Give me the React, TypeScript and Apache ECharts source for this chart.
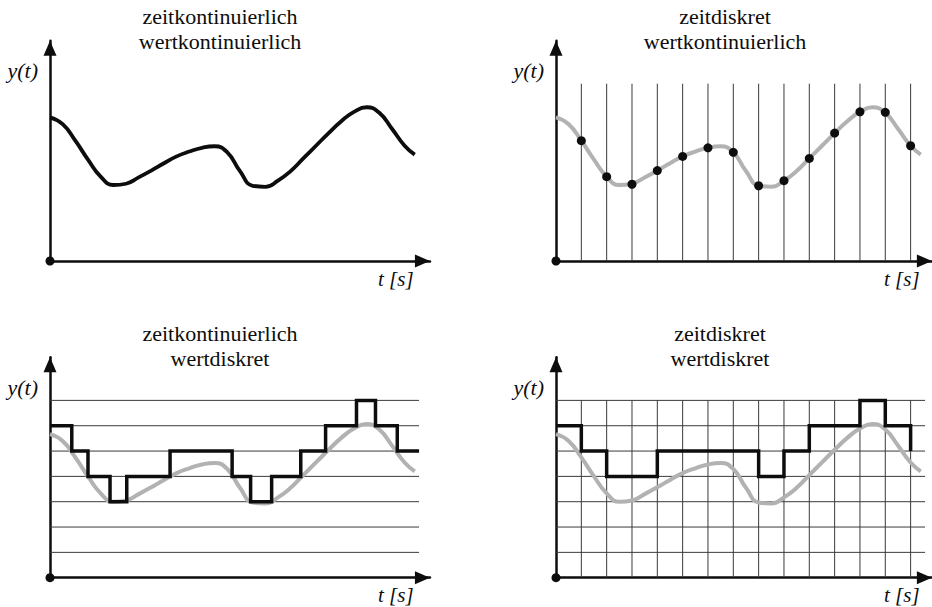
import React, { useEffect, useRef } from "react";
import * as echarts from "echarts";

// ---- data ----
const CURVE_T = [0, 0.5, 1, 1.5, 2, 2.5, 3, 3.5, 4, 4.5, 5, 5.5, 6, 6.5, 7, 7.5, 8, 8.5, 9, 9.5, 10, 10.5, 11, 11.5, 12, 12.5, 13, 13.5, 14, 14.4];
const CURVE_Y = [5.67, 5.4, 4.75, 4.0, 3.33, 3.0, 3.05, 3.3, 3.57, 3.86, 4.13, 4.32, 4.47, 4.53, 4.29, 3.55, 2.97, 2.93, 3.17, 3.55, 4.05, 4.55, 5.05, 5.52, 5.89, 6.07, 5.85, 5.22, 4.55, 4.2];

const SAMPLE_T = [1, 2, 3, 4, 5, 6, 7, 8, 9, 10, 11, 12, 13, 14];
const SAMPLE_Y = [4.75, 3.33, 3.03, 3.57, 4.13, 4.47, 4.29, 2.97, 3.17, 4.05, 5.05, 5.89, 5.87, 4.55];

// time-continuous, value-discrete: level holds from t[i] to t[i+1]
const STEP_CONT_T = [0, 0.86, 1.5, 2.37, 3.03, 4.74, 7.19, 7.92, 8.75, 9.9, 10.88, 12.1, 12.85, 13.71, 14.57];
const STEP_CONT_L = [6, 5, 4, 3, 4, 5, 4, 3, 4, 5, 6, 7, 6, 5, 5];

// time-discrete, value-discrete (sample & hold)
const STEP_DISC_T = [0, 1, 2, 4, 8, 9, 10, 12, 13, 14];
const STEP_DISC_L = [6, 5, 4, 5, 4, 5, 6, 7, 6, 5];

const TIME_GRID = [1, 2, 3, 4, 5, 6, 7, 8, 9, 10, 11, 12, 13, 14];
const VALUE_LEVELS = [1, 2, 3, 4, 5, 6, 7];
const LEVEL_TOP = 7;
const LINE_END_T = 14.57;

const TITLES = [
  ["zeitkontinuierlich", "wertkontinuierlich"],
  ["zeitdiskret", "wertkontinuierlich"],
  ["zeitkontinuierlich", "wertdiskret"],
  ["zeitdiskret", "wertdiskret"],
];
const Y_LABEL = "y(t)";
const X_LABEL = "t [s]";

// ---- layout ----
const U = 25.33;
const Y_MAX = 8.7;
const PANELS = [
  { left: 50, origin: 261, xMax: 15, cx: 220 },
  { left: 556, origin: 261, xMax: 14.84, cx: 725 },
  { left: 50, origin: 577.7, xMax: 15, cx: 220 },
  { left: 556, origin: 577.7, xMax: 14.84, cx: 720 },
];

const BLACK = "#0d0d0d";
const GREY = "#b2b2b2";
const GRIDC = "#3a3a3a";
const SERIF = "Liberation Serif";

function segRender(params: any, api: any) {
  const p1 = api.coord([api.value(0), api.value(1)]);
  const p2 = api.coord([api.value(2), api.value(3)]);
  return {
    type: "line",
    shape: { x1: p1[0], y1: p1[1], x2: p2[0], y2: p2[1] },
    style: { stroke: GRIDC, lineWidth: 1 },
  };
}

export default function App() {
  const ref = useRef<HTMLDivElement>(null);
  useEffect(() => {
    document.body.style.margin = "0";
    if (!ref.current) return;
    const chart = echarts.init(ref.current, undefined, { renderer: "svg" });

    const grid = PANELS.map((p) => ({
      left: p.left,
      top: p.origin - Y_MAX * U,
      width: p.xMax * U,
      height: Y_MAX * U,
      containLabel: false,
    }));
    const axisLine = () => ({
      show: true,
      onZero: false,
      symbol: ["none", "triangle"],
      symbolSize: [13, 15],
      symbolOffset: [0, -7.5],
      lineStyle: { color: BLACK, width: 2.5 },
    });
    const xAxis = PANELS.map((p, i) => ({
      gridIndex: i,
      type: "value",
      min: 0,
      max: p.xMax,
      axisLine: axisLine(),
      axisTick: { show: false },
      axisLabel: { show: false },
      splitLine: { show: false },
    }));
    const yAxis = PANELS.map((p, i) => ({
      gridIndex: i,
      type: "value",
      min: 0,
      max: Y_MAX,
      name: Y_LABEL,
      nameLocation: "end",
      nameGap: -(Y_MAX * U - (i < 2 ? 261 - 70 : 577.7 - 387)),
      nameTextStyle: {
        fontFamily: SERIF,
        fontSize: 22,
        fontStyle: "italic",
        color: BLACK,
        align: "right",
        verticalAlign: "middle",
        padding: [0, 12, 0, 0],
      },
      axisLine: axisLine(),
      axisTick: { show: false },
      axisLabel: { show: false },
      splitLine: { show: false },
    }));

    const curve = CURVE_T.map((t, i) => [t, CURVE_Y[i]]);
    const vSegs = TIME_GRID.map((t) => [t, 0, t, LEVEL_TOP]);
    const hSegs = VALUE_LEVELS.map((l) => [0, l, LINE_END_T, l]);

    const series: any[] = [];
    const addSegs = (idx: number, data: number[][]) =>
      series.push({
        type: "custom",
        xAxisIndex: idx,
        yAxisIndex: idx,
        renderItem: segRender,
        data,
        silent: true,
        z: 1,
        clip: false,
      });
    addSegs(1, vSegs);
    addSegs(2, hSegs);
    addSegs(3, hSegs);
    addSegs(3, vSegs);

    PANELS.forEach((_, i) => {
      series.push({
        type: "line",
        xAxisIndex: i,
        yAxisIndex: i,
        data: curve,
        smooth: 0.5,
        showSymbol: false,
        silent: true,
        z: 2,
        lineStyle: { color: i === 0 ? BLACK : GREY, width: i === 0 ? 3.8 : 4 },
      });
    });

    series.push({
      type: "line",
      xAxisIndex: 2,
      yAxisIndex: 2,
      step: "end",
      data: STEP_CONT_T.map((t, i) => [t, STEP_CONT_L[i]]),
      showSymbol: false,
      silent: true,
      z: 3,
      lineStyle: { color: BLACK, width: 3.5, join: "miter" },
    });
    series.push({
      type: "line",
      xAxisIndex: 3,
      yAxisIndex: 3,
      step: "end",
      data: STEP_DISC_T.map((t, i) => [t, STEP_DISC_L[i]]),
      showSymbol: false,
      silent: true,
      z: 3,
      lineStyle: { color: BLACK, width: 3.5, join: "miter" },
    });
    series.push({
      type: "scatter",
      xAxisIndex: 1,
      yAxisIndex: 1,
      data: SAMPLE_T.map((t, i) => [t, SAMPLE_Y[i]]),
      symbolSize: 9,
      itemStyle: { color: BLACK, opacity: 1 },
      silent: true,
      z: 4,
    });
    PANELS.forEach((_, i) => {
      series.push({
        type: "scatter",
        xAxisIndex: i,
        yAxisIndex: i,
        data: [[0, 0]],
        symbolSize: 9,
        clip: false,
        itemStyle: { color: BLACK, opacity: 1 },
        silent: true,
        z: 5,
      });
    });

    const title = PANELS.map((p, i) => ({
      text: TITLES[i].join("\n"),
      left: p.cx,
      top: (i < 2 ? 16.6 : 333.3) - 12.5,
      padding: 0,
      textAlign: "center",
      textStyle: {
        fontFamily: SERIF,
        fontSize: 22,
        fontWeight: "normal",
        lineHeight: 25,
        color: BLACK,
      },
    }));

    const graphic: any[] = PANELS.map((p, i) => ({
      type: "text",
      x: p.left + 328,
      y: i < 2 ? 279 : 594.5,
      silent: true,
      style: {
        text: X_LABEL,
        fontFamily: SERIF,
        fontSize: 21,
        fontStyle: "italic",
        fill: BLACK,
        align: "left",
        verticalAlign: "middle",
      },
    }));

    chart.setOption({
      animation: false,
      backgroundColor: "#fff",
      title,
      grid,
      xAxis,
      yAxis,
      series,
      graphic,
    });
    return () => chart.dispose();
  }, []);
  return <div ref={ref} style={{ width: 932, height: 607 }} />;
}
